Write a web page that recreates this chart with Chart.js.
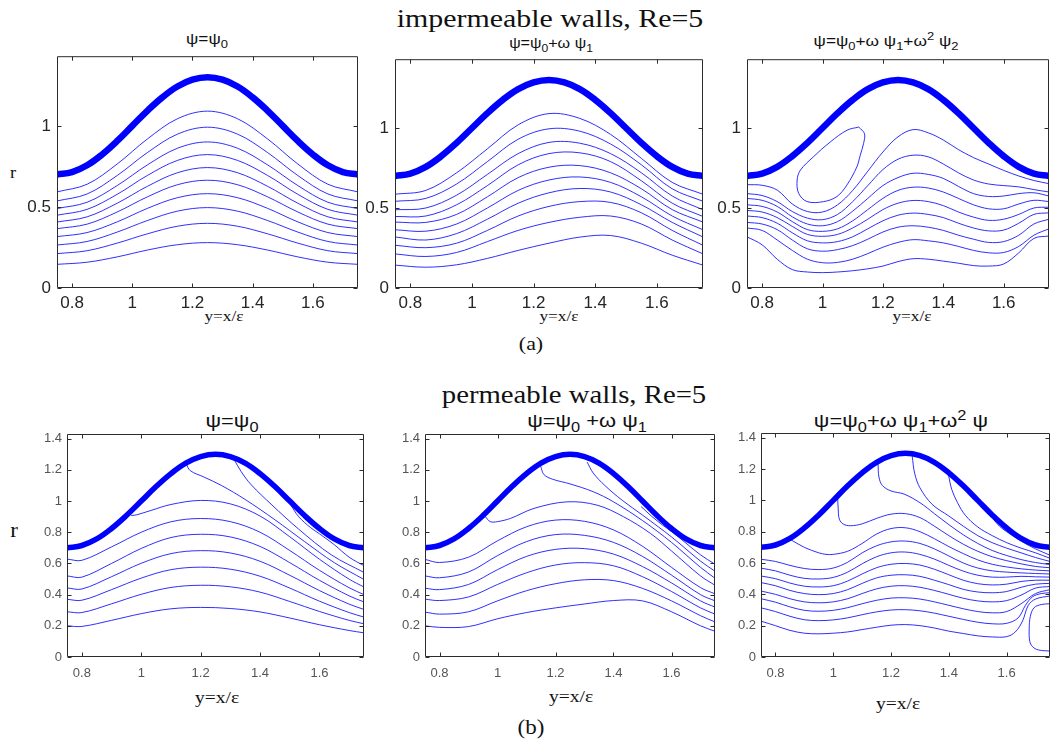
<!DOCTYPE html>
<html lang="en">
<head>
<meta charset="UTF-8" />
<title>Streamlines, Re=5</title>
<script src="https://cdn.jsdelivr.net/npm/chart.js@4"></script>
<style>
	html, body { margin: 0; padding: 0; background: #fff; }
	body { width: 1051px; height: 749px; position: relative; overflow: hidden; }
	canvas { position: absolute; }
	.txt { position: absolute; white-space: nowrap; line-height: 1; color: #111; transform: translateX(-50%) scaleX(1.15); }
	.serif { font-family: "Liberation Serif", "Times New Roman", serif; }
	.sans { font-family: "Liberation Sans", Arial, sans-serif; }
	sub, sup { font-size: 0.75em; line-height: 0; }
	sub { vertical-align: -0.35em; }
	sup { vertical-align: 0.5em; }
</style>
</head>
<body>
	<div class="txt serif" style="left:550px; top:6px; font-size:26px;">impermeable walls, Re=5</div>
	<div class="txt sans" style="left:207px; top:31px; font-size:15px;">ψ=ψ<sub>0</sub></div>
	<div class="txt sans" style="left:551px; top:36px; font-size:14px;">ψ=ψ<sub>0</sub>+ω ψ<sub>1</sub></div>
	<div class="txt sans" style="left:886px; top:33px; font-size:15px;">ψ=ψ<sub>0</sub>+ω ψ<sub>1</sub>+ω<sup>2</sup> ψ<sub>2</sub></div>
	<div class="txt serif" style="left:13px; top:165px; font-size:16px;">r</div>
	<div class="txt serif" style="left:224px; top:309px; font-size:15px;">y=x/ε</div>
	<div class="txt serif" style="left:559px; top:309px; font-size:15px;">y=x/ε</div>
	<div class="txt serif" style="left:912px; top:309px; font-size:15px;">y=x/ε</div>
	<div class="txt serif" style="left:531px; top:334px; font-size:19px;">(a)</div>

	<div class="txt serif" style="left:574px; top:382px; font-size:25px;">permeable walls, Re=5</div>
	<div class="txt sans" style="left:232px; top:411px; font-size:19px;">ψ=ψ<sub>0</sub></div>
	<div class="txt sans" style="left:587px; top:411px; font-size:19px;">ψ=ψ<sub>0</sub> +ω ψ<sub>1</sub></div>
	<div class="txt sans" style="left:901px; top:411px; font-size:19px;">ψ=ψ<sub>0</sub>+ω ψ<sub>1</sub>+ω<sup>2</sup> ψ</div>
	<div class="txt serif" style="left:14px; top:520px; font-size:20px;">r</div>
	<div class="txt serif" style="left:217px; top:689px; font-size:17px;">y=x/ε</div>
	<div class="txt serif" style="left:571px; top:688px; font-size:17px;">y=x/ε</div>
	<div class="txt serif" style="left:898px; top:695px; font-size:17px;">y=x/ε</div>
	<div class="txt serif" style="left:531px; top:717px; font-size:20px;">(b)</div>

<script>
// tick labels
const xTicks = [0.8, 1, 1.2, 1.4, 1.6];
const yTicksA = [0, 0.5, 1];
const yTicksB = [0, 0.2, 0.4, 0.6, 0.8, 1, 1.2, 1.4];

// wall profile, same in all six panels
const wallY = [0.75, 0.80, 0.85, 0.90, 0.95, 1.00, 1.05, 1.10, 1.15, 1.20, 1.25, 1.30, 1.35, 1.40, 1.45, 1.50, 1.55, 1.60, 1.65, 1.70, 1.75];
const wallR = [0.700, 0.715, 0.757, 0.824, 0.907, 1.000, 1.093, 1.176, 1.243, 1.285, 1.300, 1.285, 1.243, 1.176, 1.093, 1.000, 0.907, 0.824, 0.757, 0.715, 0.700];

// (a) impermeable walls
const gridA = [0.75, 0.85, 0.95, 1.05, 1.15, 1.25, 1.35, 1.45, 1.55, 1.65, 1.75];
const a1Lines = [
	[0.593, 0.640, 0.765, 0.919, 1.044, 1.091, 1.044, 0.919, 0.765, 0.640, 0.593],
	[0.537, 0.580, 0.694, 0.835, 0.949, 0.992, 0.949, 0.835, 0.694, 0.580, 0.537],
	[0.490, 0.529, 0.632, 0.759, 0.862, 0.901, 0.862, 0.759, 0.632, 0.529, 0.490],
	[0.449, 0.485, 0.578, 0.694, 0.787, 0.823, 0.787, 0.694, 0.578, 0.485, 0.449],
	[0.407, 0.439, 0.523, 0.627, 0.711, 0.743, 0.711, 0.627, 0.523, 0.439, 0.407],
	[0.366, 0.394, 0.469, 0.562, 0.637, 0.665, 0.637, 0.562, 0.469, 0.394, 0.366],
	[0.317, 0.342, 0.408, 0.491, 0.557, 0.582, 0.557, 0.491, 0.408, 0.342, 0.317],
	[0.265, 0.287, 0.345, 0.416, 0.474, 0.496, 0.474, 0.416, 0.345, 0.287, 0.265],
	[0.212, 0.230, 0.277, 0.334, 0.381, 0.399, 0.381, 0.334, 0.277, 0.230, 0.212],
	[0.146, 0.159, 0.192, 0.234, 0.267, 0.280, 0.267, 0.234, 0.192, 0.159, 0.146],
];
const a2Lines = [
	[0.586, 0.610, 0.720, 0.870, 1.020, 1.090, 1.060, 0.960, 0.810, 0.660, 0.586],
	[0.542, 0.560, 0.650, 0.790, 0.930, 0.995, 0.980, 0.900, 0.770, 0.620, 0.542],
	[0.489, 0.500, 0.580, 0.710, 0.840, 0.910, 0.905, 0.840, 0.720, 0.575, 0.489],
	[0.447, 0.450, 0.520, 0.640, 0.770, 0.840, 0.845, 0.790, 0.670, 0.530, 0.447],
	[0.412, 0.410, 0.460, 0.570, 0.690, 0.755, 0.765, 0.720, 0.620, 0.490, 0.412],
	[0.364, 0.355, 0.400, 0.500, 0.610, 0.675, 0.694, 0.660, 0.570, 0.450, 0.364],
	[0.319, 0.300, 0.340, 0.430, 0.530, 0.595, 0.622, 0.600, 0.520, 0.410, 0.319],
	[0.267, 0.252, 0.280, 0.360, 0.450, 0.510, 0.540, 0.535, 0.470, 0.360, 0.267],
	[0.213, 0.197, 0.222, 0.290, 0.360, 0.410, 0.442, 0.450, 0.400, 0.300, 0.213],
	[0.143, 0.130, 0.145, 0.185, 0.235, 0.280, 0.318, 0.328, 0.280, 0.205, 0.143],
];
const a3Lines = [
	[0.646, 0.642, 0.612, 0.525, 0.478, 0.475, 0.520, 0.610, 0.730, 0.850, 0.945, 0.990, 0.970, 0.925, 0.865, 0.815, 0.775, 0.735, 0.700, 0.672, 0.652],
	[0.590, 0.578, 0.540, 0.478, 0.437, 0.427, 0.460, 0.540, 0.640, 0.740, 0.805, 0.830, 0.820, 0.775, 0.720, 0.675, 0.650, 0.640, 0.632, 0.615, 0.600],
	[0.560, 0.548, 0.510, 0.445, 0.400, 0.389, 0.415, 0.480, 0.560, 0.640, 0.690, 0.717, 0.710, 0.685, 0.635, 0.590, 0.572, 0.575, 0.590, 0.595, 0.575],
	[0.520, 0.510, 0.475, 0.415, 0.365, 0.354, 0.370, 0.420, 0.490, 0.560, 0.610, 0.630, 0.625, 0.600, 0.560, 0.520, 0.495, 0.495, 0.525, 0.548, 0.540],
	[0.485, 0.475, 0.440, 0.385, 0.335, 0.323, 0.335, 0.375, 0.430, 0.490, 0.530, 0.547, 0.540, 0.515, 0.475, 0.443, 0.423, 0.430, 0.460, 0.500, 0.505],
	[0.450, 0.440, 0.405, 0.345, 0.295, 0.282, 0.290, 0.320, 0.370, 0.420, 0.455, 0.468, 0.460, 0.440, 0.405, 0.375, 0.357, 0.362, 0.405, 0.460, 0.470],
	[0.410, 0.400, 0.365, 0.300, 0.245, 0.230, 0.240, 0.265, 0.305, 0.350, 0.380, 0.389, 0.380, 0.360, 0.330, 0.305, 0.285, 0.290, 0.330, 0.400, 0.430],
	[0.375, 0.360, 0.300, 0.235, 0.180, 0.158, 0.160, 0.180, 0.215, 0.255, 0.285, 0.302, 0.295, 0.282, 0.260, 0.235, 0.220, 0.222, 0.260, 0.330, 0.370],
	[0.320, 0.270, 0.180, 0.115, 0.100, 0.096, 0.100, 0.108, 0.120, 0.137, 0.165, 0.183, 0.180, 0.168, 0.155, 0.140, 0.137, 0.150, 0.220, 0.310, 0.325],
];
const a3Eddy = [[1.120, 1.006], [1.139, 0.965], [1.136, 0.903], [1.125, 0.830], [1.114, 0.758], [1.081, 0.644], [1.048, 0.572], [1.004, 0.540], [0.949, 0.540], [0.921, 0.592], [0.916, 0.675], [0.927, 0.737], [0.970, 0.820], [1.026, 0.913], [1.081, 0.986], [1.120, 1.006]];

// (b) permeable walls
const gridB = [0.75, 0.80, 0.90, 1.00, 1.10, 1.20, 1.30, 1.40, 1.50, 1.60, 1.70, 1.75];
const b1Lines = [
	[0.200, 0.196, 0.235, 0.278, 0.309, 0.318, 0.311, 0.289, 0.250, 0.207, 0.170, 0.155],
	[0.290, 0.285, 0.341, 0.402, 0.446, 0.460, 0.450, 0.416, 0.356, 0.292, 0.235, 0.213],
	[0.370, 0.364, 0.432, 0.506, 0.560, 0.576, 0.563, 0.518, 0.442, 0.358, 0.285, 0.256],
	[0.443, 0.436, 0.515, 0.601, 0.663, 0.682, 0.667, 0.614, 0.524, 0.426, 0.339, 0.305],
	[0.520, 0.512, 0.600, 0.696, 0.766, 0.787, 0.770, 0.709, 0.605, 0.492, 0.392, 0.353],
	[0.628, 0.620, 0.706, 0.800, 0.867, 0.888, 0.868, 0.800, 0.683, 0.556, 0.444, 0.400],
];
const b1Inflow = [
	[[0.966, 0.907], [0.985, 0.912], [1.033, 0.940], [1.10, 0.978], [1.20, 1.004], [1.30, 0.982], [1.40, 0.904], [1.50, 0.771], [1.60, 0.627], [1.70, 0.499], [1.75, 0.449]],
	[[1.151, 1.240], [1.165, 1.195], [1.21, 1.155], [1.27, 1.100], [1.35, 1.010], [1.45, 0.880], [1.55, 0.740], [1.65, 0.605], [1.75, 0.497]],
	[[1.314, 1.262], [1.336, 1.190], [1.37, 1.105], [1.44, 0.975], [1.53, 0.820], [1.64, 0.655], [1.75, 0.542]],
	[[1.500, 0.985], [1.53, 0.900], [1.57, 0.830], [1.60, 0.790], [1.65, 0.720], [1.70, 0.640], [1.75, 0.585]],
];
const b2Lines = [
	[0.200, 0.190, 0.195, 0.245, 0.285, 0.315, 0.340, 0.362, 0.360, 0.290, 0.200, 0.165],
	[0.288, 0.275, 0.290, 0.360, 0.425, 0.470, 0.495, 0.490, 0.440, 0.360, 0.265, 0.225],
	[0.371, 0.362, 0.385, 0.465, 0.540, 0.590, 0.605, 0.585, 0.515, 0.420, 0.315, 0.275],
	[0.441, 0.432, 0.465, 0.560, 0.645, 0.690, 0.695, 0.660, 0.580, 0.475, 0.360, 0.320],
	[0.520, 0.508, 0.545, 0.650, 0.740, 0.785, 0.780, 0.735, 0.645, 0.525, 0.400, 0.360],
	[0.626, 0.606, 0.640, 0.745, 0.835, 0.878, 0.870, 0.815, 0.710, 0.575, 0.445, 0.405],
];
const b2Inflow = [
	[[0.958, 0.900], [0.975, 0.868], [1.00, 0.868], [1.045, 0.889], [1.126, 0.953], [1.24, 0.995], [1.343, 0.974], [1.435, 0.899], [1.527, 0.793], [1.60, 0.680], [1.70, 0.520], [1.75, 0.460]],
	[[1.149, 1.223], [1.16, 1.170], [1.19, 1.140], [1.25, 1.110], [1.33, 1.060], [1.40, 0.995], [1.50, 0.875], [1.60, 0.735], [1.70, 0.575], [1.75, 0.505]],
	[[1.309, 1.250], [1.33, 1.180], [1.37, 1.100], [1.43, 1.005], [1.50, 0.910], [1.60, 0.770], [1.70, 0.615], [1.75, 0.550]],
	[[1.495, 0.965], [1.53, 0.905], [1.57, 0.845], [1.60, 0.805], [1.65, 0.730], [1.70, 0.655], [1.75, 0.595]],
];
const b3Lines = [
	[0.624, 0.610, 0.585, 0.565, 0.558, 0.568, 0.605, 0.665, 0.710, 0.735, 0.740, 0.725, 0.690, 0.645, 0.600, 0.568, 0.550, 0.542, 0.537, 0.533, 0.530],
	[0.567, 0.550, 0.522, 0.502, 0.498, 0.508, 0.542, 0.595, 0.640, 0.665, 0.670, 0.655, 0.625, 0.585, 0.548, 0.522, 0.510, 0.510, 0.515, 0.512, 0.510],
	[0.517, 0.500, 0.472, 0.452, 0.447, 0.455, 0.485, 0.530, 0.570, 0.592, 0.597, 0.587, 0.560, 0.525, 0.490, 0.468, 0.460, 0.465, 0.482, 0.490, 0.490],
	[0.475, 0.455, 0.425, 0.405, 0.398, 0.405, 0.430, 0.470, 0.505, 0.522, 0.525, 0.515, 0.490, 0.462, 0.432, 0.415, 0.410, 0.418, 0.445, 0.465, 0.470],
	[0.421, 0.400, 0.372, 0.352, 0.346, 0.352, 0.372, 0.405, 0.435, 0.452, 0.455, 0.445, 0.425, 0.400, 0.375, 0.358, 0.352, 0.360, 0.395, 0.440, 0.450],
	[0.372, 0.350, 0.320, 0.298, 0.292, 0.298, 0.315, 0.340, 0.362, 0.376, 0.378, 0.370, 0.352, 0.330, 0.308, 0.290, 0.282, 0.290, 0.340, 0.405, 0.430],
];
const b3Lower = [
	[[0.75, 0.314], [0.80, 0.290], [0.85, 0.260], [0.90, 0.238], [0.95, 0.232], [1.00, 0.237], [1.05, 0.250], [1.10, 0.270], [1.15, 0.288], [1.20, 0.300], [1.25, 0.302], [1.30, 0.295], [1.35, 0.280], [1.40, 0.260], [1.45, 0.240], [1.50, 0.222], [1.55, 0.212], [1.60, 0.215], [1.64, 0.250], [1.665, 0.330], [1.69, 0.385], [1.72, 0.405], [1.75, 0.410]],
	[[0.75, 0.229], [0.80, 0.200], [0.85, 0.170], [0.90, 0.152], [0.95, 0.148], [1.00, 0.152], [1.05, 0.160], [1.10, 0.175], [1.15, 0.190], [1.20, 0.203], [1.25, 0.207], [1.30, 0.200], [1.35, 0.185], [1.40, 0.165], [1.45, 0.150], [1.50, 0.135], [1.55, 0.128], [1.60, 0.130], [1.63, 0.160], [1.655, 0.230], [1.675, 0.330], [1.70, 0.370], [1.75, 0.390]],
];
const b3Inflow = [
	[[0.850, 0.752], [0.90, 0.700], [0.95, 0.665], [0.975, 0.655], [1.00, 0.655], [1.05, 0.675], [1.10, 0.725], [1.15, 0.785], [1.20, 0.820], [1.25, 0.825], [1.30, 0.800], [1.35, 0.755], [1.40, 0.705], [1.45, 0.660], [1.50, 0.620], [1.55, 0.592], [1.60, 0.575], [1.65, 0.563], [1.70, 0.555], [1.75, 0.550]],
	[[1.015, 1.025], [1.017, 0.950], [1.021, 0.880], [1.035, 0.848], [1.06, 0.838], [1.10, 0.850], [1.15, 0.885], [1.20, 0.912], [1.25, 0.915], [1.30, 0.890], [1.35, 0.835], [1.40, 0.775], [1.45, 0.720], [1.50, 0.675], [1.55, 0.640], [1.60, 0.615], [1.65, 0.595], [1.70, 0.578], [1.75, 0.570]],
	[[1.155, 1.235], [1.158, 1.150], [1.17, 1.095], [1.20, 1.060], [1.245, 1.040], [1.30, 0.985], [1.35, 0.915], [1.40, 0.845], [1.45, 0.780], [1.50, 0.725], [1.55, 0.680], [1.60, 0.648], [1.65, 0.622], [1.70, 0.603], [1.75, 0.590]],
	[[1.273, 1.285], [1.282, 1.170], [1.30, 1.080], [1.342, 0.975], [1.40, 0.900], [1.45, 0.835], [1.50, 0.775], [1.55, 0.730], [1.60, 0.695], [1.65, 0.665], [1.70, 0.635], [1.75, 0.610]],
	[[1.399, 1.160], [1.41, 1.070], [1.43, 0.985], [1.457, 0.905], [1.50, 0.830], [1.55, 0.775], [1.60, 0.730], [1.65, 0.695], [1.70, 0.665], [1.75, 0.630]],
	[[1.554, 0.880], [1.575, 0.835], [1.60, 0.800], [1.65, 0.740], [1.70, 0.690], [1.75, 0.650]],
];
const b3Eddy = [[1.75, 0.340], [1.72, 0.335], [1.695, 0.315], [1.682, 0.260], [1.678, 0.180], [1.68, 0.100], [1.69, 0.065], [1.71, 0.045], [1.75, 0.038]];

const onGrid = (xs, rs) => rs.map((r, i) => ({ x: xs[i], y: r }));
const fromPairs = (pairs) => pairs.map(([x, r]) => ({ x, y: r }));

const PAD = { left: 48, top: 16, right: 16, bottom: 36 };
const looks = {
	top: { tickSize: 17, tickColor: '#262626', yPad: 6, xPad: 5, wall: 6.5 },
	bottom: { tickSize: 13, tickColor: '#555555', yPad: 5, xPad: 9, wall: 5.5 },
};

const tickText = (value) => String(Number(value.toFixed(2)));
const fixedTicks = (values) => (scale) => { scale.ticks = values.map((value) => ({ value })); };

const framePlugin = {
	id: 'frame',
	afterDatasetsDraw(chart) {
		const { ctx, chartArea: area, scales } = chart;
		const left = area.left + 0.5;
		const right = area.right - 0.5;
		const top = area.top + 0.5;
		const bottom = area.bottom - 0.5;
		ctx.save();
		ctx.strokeStyle = '#2b2b2b';
		ctx.lineWidth = 1;
		ctx.beginPath();
		ctx.rect(left, top, right - left, bottom - top);
		for (const tick of scales.x.ticks) {
			const px = Math.round(scales.x.getPixelForValue(tick.value)) + 0.5;
			ctx.moveTo(px, bottom); ctx.lineTo(px, bottom - 4);
			ctx.moveTo(px, top); ctx.lineTo(px, top + 4);
		}
		for (const tick of scales.y.ticks) {
			const py = Math.round(scales.y.getPixelForValue(tick.value)) + 0.5;
			ctx.moveTo(left, py); ctx.lineTo(left + 4, py);
			ctx.moveTo(right, py); ctx.lineTo(right - 4, py);
		}
		ctx.stroke();
		ctx.restore();
	},
};

const makePanel = (rect, yTicks, lookName, streamLines) => {
	const [L, T, R, B] = rect;
	const look = looks[lookName];
	const canvas = document.createElement('canvas');
	const width = R - L + PAD.left + PAD.right;
	const height = B - T + PAD.top + PAD.bottom;
	canvas.width = width;
	canvas.height = height;
	canvas.style.left = (L - PAD.left) + 'px';
	canvas.style.top = (T - PAD.top) + 'px';
	canvas.style.width = width + 'px';
	canvas.style.height = height + 'px';
	document.body.appendChild(canvas);

	const datasets = [{
		data: onGrid(wallY, wallR),
		borderColor: '#0000ff',
		borderWidth: look.wall,
		borderCapStyle: 'butt',
		tension: 0.4,
	}];
	streamLines.forEach((points) => datasets.push({
		data: points,
		borderColor: 'rgba(10, 10, 255, 0.85)',
		borderWidth: 1,
		tension: 0.35,
	}));

	const tickFont = { family: '"Liberation Sans", Arial, sans-serif', size: look.tickSize };

	new Chart(canvas, {
		type: 'line',
		data: { datasets },
		options: {
			responsive: false,
			animation: false,
			events: [],
			devicePixelRatio: 1,
			layout: { padding: { left: 0, top: PAD.top, right: PAD.right, bottom: 0 } },
			elements: { point: { radius: 0 }, line: { fill: false, borderJoinStyle: 'round' } },
			plugins: { legend: { display: false }, tooltip: { enabled: false } },
			scales: {
				x: {
					type: 'linear',
					min: 0.75,
					max: 1.75,
					grid: { display: false, drawTicks: false },
					border: { display: false },
					ticks: { padding: look.xPad, color: look.tickColor, font: tickFont, maxRotation: 0, autoSkip: false, callback: tickText },
					afterBuildTicks: fixedTicks(xTicks),
					afterFit(scale) { scale.height = PAD.bottom; },
				},
				y: {
					type: 'linear',
					min: 0,
					max: 1.43,
					grid: { display: false, drawTicks: false },
					border: { display: false },
					ticks: { padding: look.yPad, color: look.tickColor, font: tickFont, autoSkip: false, callback: tickText },
					afterBuildTicks: fixedTicks(yTicks),
					afterFit(scale) { scale.width = PAD.left; },
				},
			},
		},
		plugins: [framePlugin],
	});
};

makePanel([57, 56, 358, 288], yTicksA, 'top', a1Lines.map((rs) => onGrid(gridA, rs)));
makePanel([395, 59, 703, 288], yTicksA, 'top', a2Lines.map((rs) => onGrid(gridA, rs)));
makePanel([747, 59, 1049, 288], yTicksA, 'top', [...a3Lines.map((rs) => onGrid(wallY, rs)), fromPairs(a3Eddy)]);

makePanel([67, 434, 364, 657], yTicksB, 'bottom', [...b1Lines.map((rs) => onGrid(gridB, rs)), ...b1Inflow.map(fromPairs)]);
makePanel([425, 434, 715, 657], yTicksB, 'bottom', [...b2Lines.map((rs) => onGrid(gridB, rs)), ...b2Inflow.map(fromPairs)]);
makePanel([761, 433, 1050, 657], yTicksB, 'bottom', [...b3Lines.map((rs) => onGrid(wallY, rs)), ...b3Lower.map(fromPairs), ...b3Inflow.map(fromPairs), fromPairs(b3Eddy)]);
</script>
</body>
</html>
